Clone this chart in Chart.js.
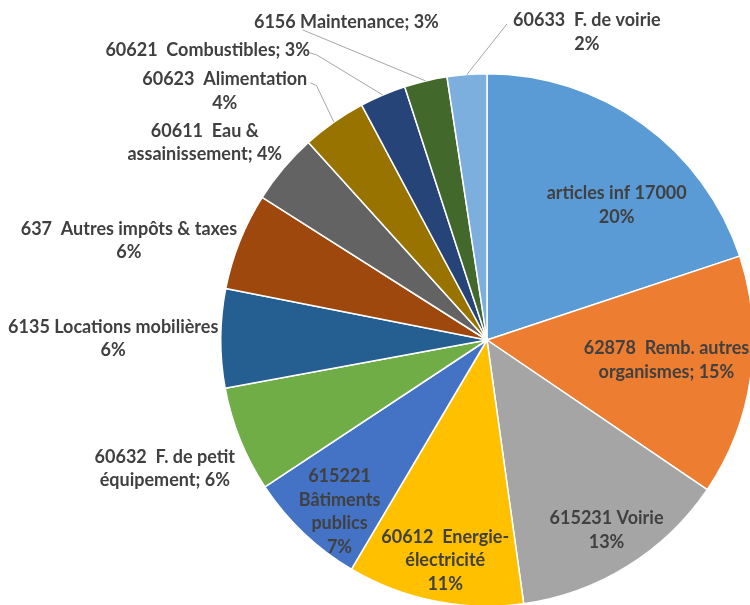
<!DOCTYPE html>
<html>
<head>
<meta charset="utf-8">
<script src="https://cdn.jsdelivr.net/npm/chart.js@4.4.1/dist/chart.umd.min.js"></script>
<style>
  html, body { margin: 0; padding: 0; background: #fff; overflow: hidden; }
  #wrap { position: relative; width: 760px; height: 615px; }
</style>
</head>
<body>
<div id="wrap"><canvas id="pie" width="760" height="615"></canvas></div>
<script>
// category names, already split the way they wrap on the chart
const categories = [
  ['articles inf 17000'],
  ['62878  Remb. autres', 'organismes'],
  ['615231 Voirie'],
  ['60612  Energie-', 'électricité'],
  ['615221', 'Bâtiments', 'publics'],
  ['60632  F. de petit', 'équipement'],
  ['6135 Locations mobilières'],
  ['637  Autres impôts & taxes'],
  ['60611  Eau &', 'assainissement'],
  ['60623  Alimentation'],
  ['60621  Combustibles'],
  ['6156 Maintenance'],
  ['60633  F. de voirie']
];

// share of the total, in %
const shares = [19.9, 14.6, 13.3, 10.7, 7.2, 6.4, 6.0, 5.9, 4.3, 3.9, 2.8, 2.6, 2.4];

const sliceColors = [
  '#5B9BD5', '#ED7D31', '#A5A5A5', '#FFC000', '#4472C4', '#70AD47', '#255E91',
  '#9E480E', '#636363', '#997300', '#264478', '#43682B', '#7CAFDD'
];

// ========== LABELS PLUGIN ========== //
const sliceLabels = {
  id: 'sliceLabels',
  afterDatasetsDraw(chart, args, opts) {
    const ctx = chart.ctx;
    const meta = chart.getDatasetMeta(0);
    const total = shares.reduce((a, b) => a + b, 0);
    ctx.save();
    ctx.font = opts.font;
    ctx.textAlign = 'center';
    ctx.textBaseline = 'middle';

    meta.data.forEach((arc, i) => {
      const { x, y, outerRadius: r, startAngle, endAngle } =
        arc.getProps(['x', 'y', 'outerRadius', 'startAngle', 'endAngle'], true);

      // leader line first so the text sits on top
      const lead = opts.leaders[i];
      if (lead) {
        const mid = (startAngle + endAngle) / 2;
        ctx.strokeStyle = opts.leaderColor;
        ctx.lineWidth = 1;
        ctx.beginPath();
        lead.forEach(([px, py], k) => {
          const fn = k === 0 ? 'moveTo' : 'lineTo';
          ctx[fn](x + px * r, y + py * r);
        });
        ctx.lineTo(x + Math.cos(mid) * r, y + Math.sin(mid) * r);
        ctx.stroke();
      }

      const pct = Math.round(shares[i] / total * 100) + '%';
      const lines = categories[i].slice();
      if (opts.inlinePct.includes(i)) lines[lines.length - 1] += '; ' + pct;
      else lines.push(pct);

      const [ox, oy] = opts.offsets[i];
      const cx = x + ox * r;
      const cy = y + oy * r;
      const top = cy - (lines.length - 1) * opts.lineHeight / 2;
      ctx.fillStyle = opts.color;
      lines.forEach((t, k) => ctx.fillText(t, cx, top + k * opts.lineHeight));
    });
    ctx.restore();
  }
};

// ========== CHART ========== //
new Chart(document.getElementById('pie'), {
  type: 'pie',
  data: {
    labels: categories.map(c => c.join(' ')),
    datasets: [{
      data: shares,
      backgroundColor: sliceColors,
      borderColor: '#ffffff',
      borderWidth: 1.5,
      hoverOffset: 0
    }]
  },
  options: {
    responsive: false,
    animation: false,
    layout: { padding: { left: 220, right: 6, top: 73, bottom: 8 } },
    plugins: {
      legend: { display: false },
      tooltip: { enabled: false },
      sliceLabels: {
        font: 'bold 18px Lato',
        color: '#404040',
        lineHeight: 23.5,
        leaderColor: '#A6A6A6',
        inlinePct: [1, 5, 8, 10, 11],
        // label block centres, in radius units from the pie centre
        offsets: [
          [0.487, -0.507], [0.674, 0.075], [0.449, 0.715], [-0.157, 0.828],
          [-0.554, 0.644], [-1.210, 0.483], [-1.404, -0.004], [-1.345, -0.373],
          [-1.060, -0.742], [-0.985, -0.934], [-1.049, -1.090], [-0.528, -1.195],
          [0.375, -1.157]
        ],
        leaders: {
          9: [[-0.663, -0.966], [-0.640, -0.955]],
          10: [[-0.667, -1.079], [-0.640, -1.071]],
          11: [[-0.693, -1.165]],
          12: [[0.075, -1.187]]
        }
      }
    }
  },
  plugins: [sliceLabels]
});
</script>
</body>
</html>
